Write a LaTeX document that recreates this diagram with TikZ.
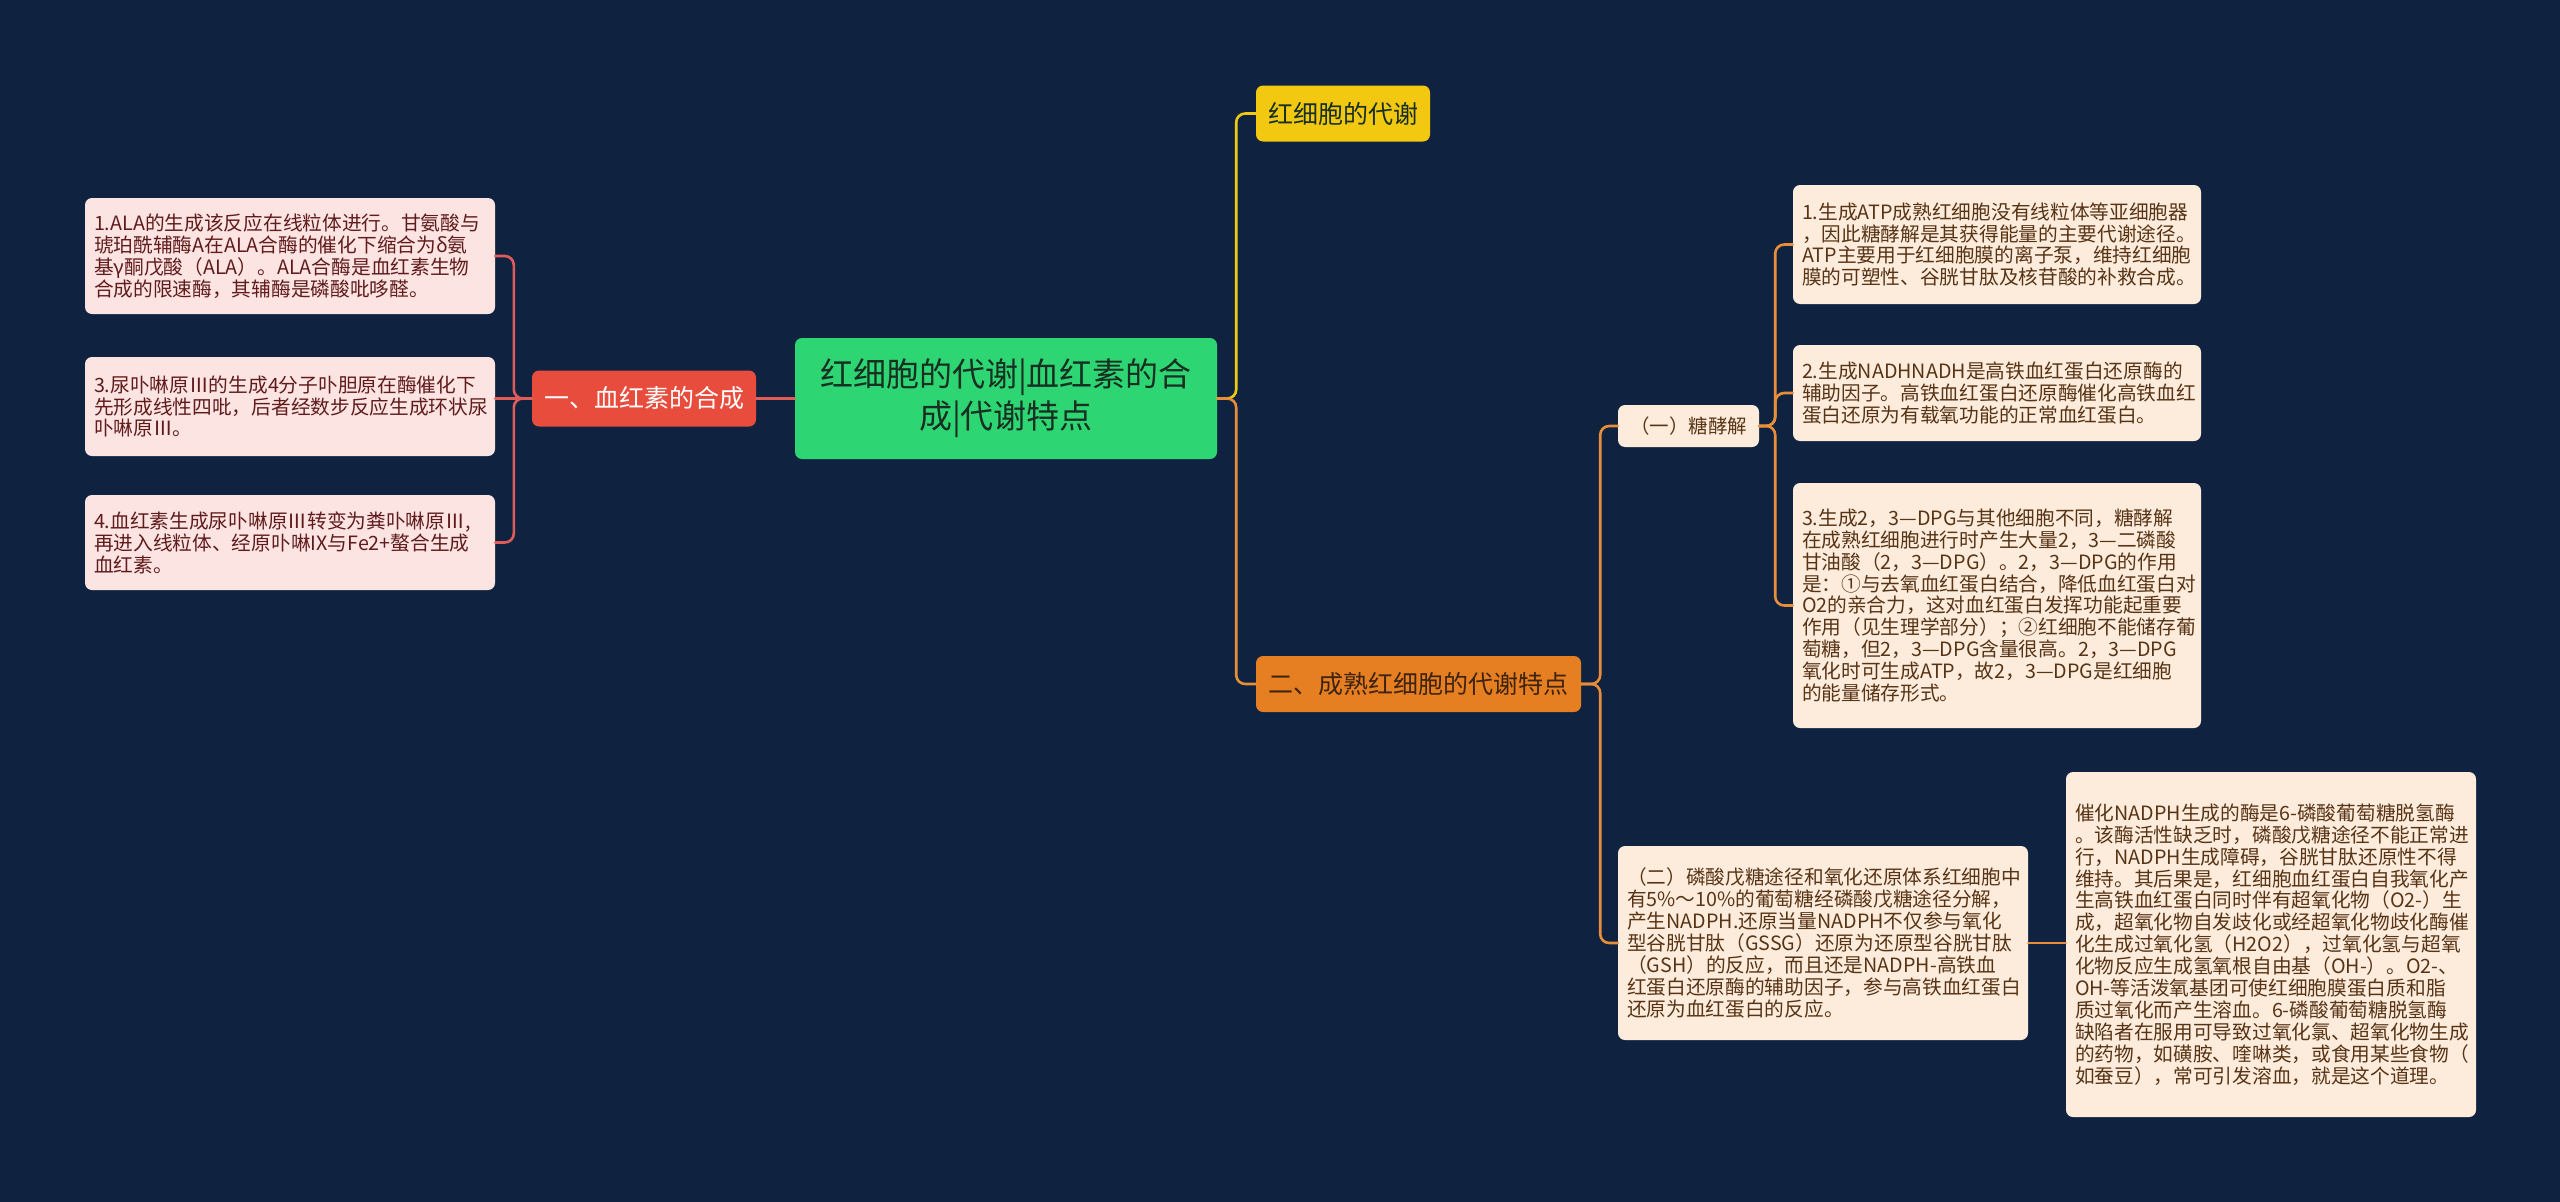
\documentclass[tikz,border=0pt]{standalone}
\usepackage{fontspec}
\setmainfont{Noto Sans CJK SC}
\definecolor{bgnavy}{RGB}{15,35,64}
\definecolor{rootgreen}{RGB}{46,214,115}
\definecolor{rootink}{RGB}{24,48,34}
\definecolor{hemered}{RGB}{231,76,60}
\definecolor{hemeline}{RGB}{224,92,88}
\definecolor{pinkfill}{RGB}{252,228,226}
\definecolor{pinkink}{RGB}{96,28,28}
\definecolor{metyellow}{RGB}{242,200,17}
\definecolor{metorange}{RGB}{230,126,34}
\definecolor{orangeline}{RGB}{232,142,58}
\definecolor{beigefill}{RGB}{253,236,220}
\definecolor{beigeink}{RGB}{88,52,22}
\begin{document}
\begin{tikzpicture}[x=1pt, y=-1pt, line cap=round,
  box/.style={rounded corners=7pt, inner sep=0pt, align=left},
  rootbox/.style={box, align=center, fill=rootgreen, text=rootink,
    minimum width=422pt, minimum height=121pt, font=\fontsize{33}{42}\selectfont},
  branch/.style={box, minimum height=56pt, font=\fontsize{25}{30}\selectfont},
  leafL/.style={box, fill=pinkfill, text=pinkink, inner xsep=9pt, text width=392pt,
    font=\fontsize{19.7}{21.9}\selectfont},
  leafR/.style={box, fill=beigefill, text=beigeink, inner xsep=9pt, text width=390pt,
    font=\fontsize{19.7}{21.9}\selectfont},
  link/.style={line width=2.6pt, rounded corners=9pt}]

\fill[bgnavy] (0,0) rectangle (2560,1202);
\useasboundingbox (0,0) rectangle (2560,1202);

% ---------- centre ----------
\node[rootbox] (root) at (1006,398.5) {红细胞的代谢|血红素的合\\成|代谢特点};

% ---------- left: heme synthesis ----------
\node[branch, fill=hemered, text=white, minimum width=224pt] (heme) at (644,398.5) {一、血红素的合成};
\node[leafL, minimum height=116pt] (hemeA) at (290,256) {1.ALA的生成该反应在线粒体进行。甘氨酸与\\琥珀酰辅酶A在ALA合酶的催化下缩合为δ氨\\基γ酮戊酸（ALA）。ALA合酶是血红素生物\\合成的限速酶，其辅酶是磷酸吡哆醛。};
\node[leafL, minimum height=99pt] (hemeB) at (290,406.5) {3.尿卟啉原Ⅲ的生成4分子卟胆原在酶催化下\\先形成线性四吡，后者经数步反应生成环状尿\\卟啉原Ⅲ。};
\node[leafL, minimum height=95pt] (hemeC) at (290,542.5) {4.血红素生成尿卟啉原Ⅲ转变为粪卟啉原Ⅲ,\\再进入线粒体、经原卟啉IX与Fe2+螯合生成\\血红素。};
\draw[link, hemeline] (root.west) -- (heme.east);
\draw[link, hemeline] (heme.west) -- ++(-18,0) |- (hemeA.east);
\draw[link, hemeline] (heme.west) -- (heme.west -| hemeB.east);
\draw[link, hemeline] (heme.west) -- ++(-18,0) |- (hemeC.east);

% ---------- right: red cell metabolism ----------
\node[branch, fill=metyellow, text=rootink, minimum width=174pt] (rbc) at (1343,113.5) {红细胞的代谢};
\node[branch, fill=metorange, text=beigeink!70!black, minimum width=325pt] (mature) at (1418.5,684) {二、成熟红细胞的代谢特点};
\draw[link, metyellow] (root.east) -- ++(19,0) |- (rbc.west);
\draw[link, orangeline] (root.east) -- ++(19,0) |- (mature.west);

% glycolysis
\node[box, fill=beigefill, text=beigeink, minimum width=141pt, minimum height=42pt,
  font=\fontsize{19.5}{22}\selectfont] (glyco) at (1688.5,426) {（一）糖酵解};
\node[leafR, minimum height=119pt] (glyA) at (1997,244.5) {1.生成ATP成熟红细胞没有线粒体等亚细胞器\\，因此糖酵解是其获得能量的主要代谢途径。\\ATP主要用于红细胞膜的离子泵，维持红细胞\\膜的可塑性、谷胱甘肽及核苷酸的补救合成。};
\node[leafR, minimum height=96pt] (glyB) at (1997,393) {2.生成NADHNADH是高铁血红蛋白还原酶的\\辅助因子。高铁血红蛋白还原酶催化高铁血红\\蛋白还原为有载氧功能的正常血红蛋白。};
\node[leafR, minimum height=245pt] (glyC) at (1997,605.5) {3.生成2，3—DPG与其他细胞不同，糖酵解\\在成熟红细胞进行时产生大量2，3—二磷酸\\甘油酸（2，3—DPG）。2，3—DPG的作用\\是：①与去氧血红蛋白结合，降低血红蛋白对\\O2的亲合力，这对血红蛋白发挥功能起重要\\作用（见生理学部分）；②红细胞不能储存葡\\萄糖，但2，3—DPG含量很高。2，3—DPG\\氧化时可生成ATP，故2，3—DPG是红细胞\\的能量储存形式。};
\draw[link, orangeline] (mature.east) -- ++(19,0) |- (glyco.west);
\draw[link, orangeline] (glyco.east) -- ++(16,0) |- (glyA.west);
\draw[link, orangeline] (glyco.east) -- ++(16,0) |- (glyB.west);
\draw[link, orangeline] (glyco.east) -- ++(16,0) |- (glyC.west);

% pentose phosphate pathway
\node[leafR, text width=392pt, minimum height=194pt] (pento) at (1823,943) {（二）磷酸戊糖途径和氧化还原体系红细胞中\\有5\%～10\%的葡萄糖经磷酸戊糖途径分解，\\产生NADPH.还原当量NADPH不仅参与氧化\\型谷胱甘肽（GSSG）还原为还原型谷胱甘肽\\（GSH）的反应，而且还是NADPH-高铁血\\红蛋白还原酶的辅助因子，参与高铁血红蛋白\\还原为血红蛋白的反应。};
\node[leafR, text width=392pt, minimum height=345pt] (nadph) at (2271,944.5) {催化NADPH生成的酶是6-磷酸葡萄糖脱氢酶\\。该酶活性缺乏时，磷酸戊糖途径不能正常进\\行，NADPH生成障碍，谷胱甘肽还原性不得\\维持。其后果是，红细胞血红蛋白自我氧化产\\生高铁血红蛋白同时伴有超氧化物（O2-）生\\成，超氧化物自发歧化或经超氧化物歧化酶催\\化生成过氧化氢（H2O2），过氧化氢与超氧\\化物反应生成氢氧根自由基（OH-）。O2-、\\OH-等活泼氧基团可使红细胞膜蛋白质和脂\\质过氧化而产生溶血。6-磷酸葡萄糖脱氢酶\\缺陷者在服用可导致过氧化氯、超氧化物生成\\的药物，如磺胺、喹啉类，或食用某些食物（\\如蚕豆），常可引发溶血，就是这个道理。};
\draw[link, orangeline] (mature.east) -- ++(19,0) |- (pento.west);
\draw[link, orangeline] (pento.east) -- (pento.east -| nadph.west);

\end{tikzpicture}
\end{document}
